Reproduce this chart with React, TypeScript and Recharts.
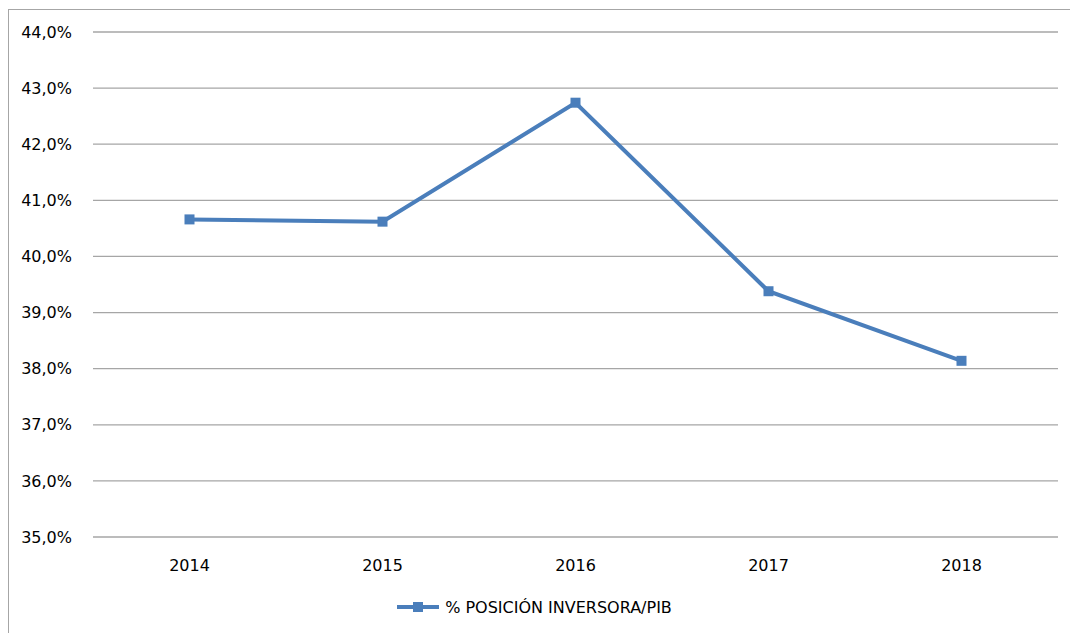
import React from 'react';
import { LineChart, Line, XAxis, YAxis, CartesianGrid, Legend } from 'recharts';

const years = ["2014", "2015", "2016", "2017", "2018"];
const posicionPib = [40.66, 40.62, 42.74, 39.38, 38.14];
const yTicks = [35, 36, 37, 38, 39, 40, 41, 42, 43, 44];
const seriesName = "% POSICIÓN INVERSORA/PIB";

const chartData = years.map((year, i) => ({ year, value: posicionPib[i] }));

const lineColor = "#4a7ebb";
const font = "'DejaVu Sans', sans-serif";

const SquareDot = (props: any) => {
  const { cx, cy, index } = props;
  if (cx == null || cy == null) return null;
  return <rect key={`dot-${index}`} x={cx - 5} y={cy - 5} width={10} height={10} fill={lineColor} />;
};

const LegendContent = () => (
  <div style={{ display: 'flex', justifyContent: 'center', alignItems: 'center', height: 20 }}>
    <svg width={46} height={20} style={{ marginRight: 4 }}>
      <line x1={2} y1={10} x2={44} y2={10} stroke={lineColor} strokeWidth={4} />
      <rect x={18} y={5} width={10} height={10} fill={lineColor} />
    </svg>
    <span style={{ fontFamily: font, fontSize: 16, color: '#000' }}>{seriesName}</span>
  </div>
);

const App: React.FC = () => {
  return (
    <div style={{ position: 'fixed', left: 0, top: 0, width: 1070, height: 633, overflow: 'hidden', background: '#fff' }}>
      <div style={{ position: 'absolute', left: 8, top: 9, width: 1100, height: 700, borderLeft: '1px solid #a6a6a6', borderTop: '1px solid #a6a6a6' }}>
        <LineChart width={1061} height={623} data={chartData} margin={{ top: 22, right: 12, bottom: 16, left: 0 }}>
          <CartesianGrid vertical={false} stroke="#a6a6a6" strokeWidth={1.3} />
          <XAxis
            dataKey="year"
            height={60}
            padding={{ left: 96.5, right: 96.5 }}
            axisLine={false}
            tickLine={false}
            tickSize={0}
            tickMargin={23}
            tick={{ fill: '#000', fontFamily: font, fontSize: 16 }}
          />
          <YAxis
            domain={[35, 44]}
            ticks={yTicks}
            width={84}
            axisLine={false}
            tickLine={false}
            tickSize={0}
            tickMargin={21}
            interval={0}
            tickFormatter={(v: number) => `${v.toFixed(1).replace('.', ',')}%`}
            tick={{ fill: '#000', fontFamily: font, fontSize: 16 }}
          />
          <Legend verticalAlign="bottom" height={20} content={<LegendContent />} />
          <Line
            type="linear"
            dataKey="value"
            name={seriesName}
            stroke={lineColor}
            strokeWidth={4}
            dot={<SquareDot />}
            activeDot={false}
            isAnimationActive={false}
          />
        </LineChart>
      </div>
    </div>
  );
};

export default App;
